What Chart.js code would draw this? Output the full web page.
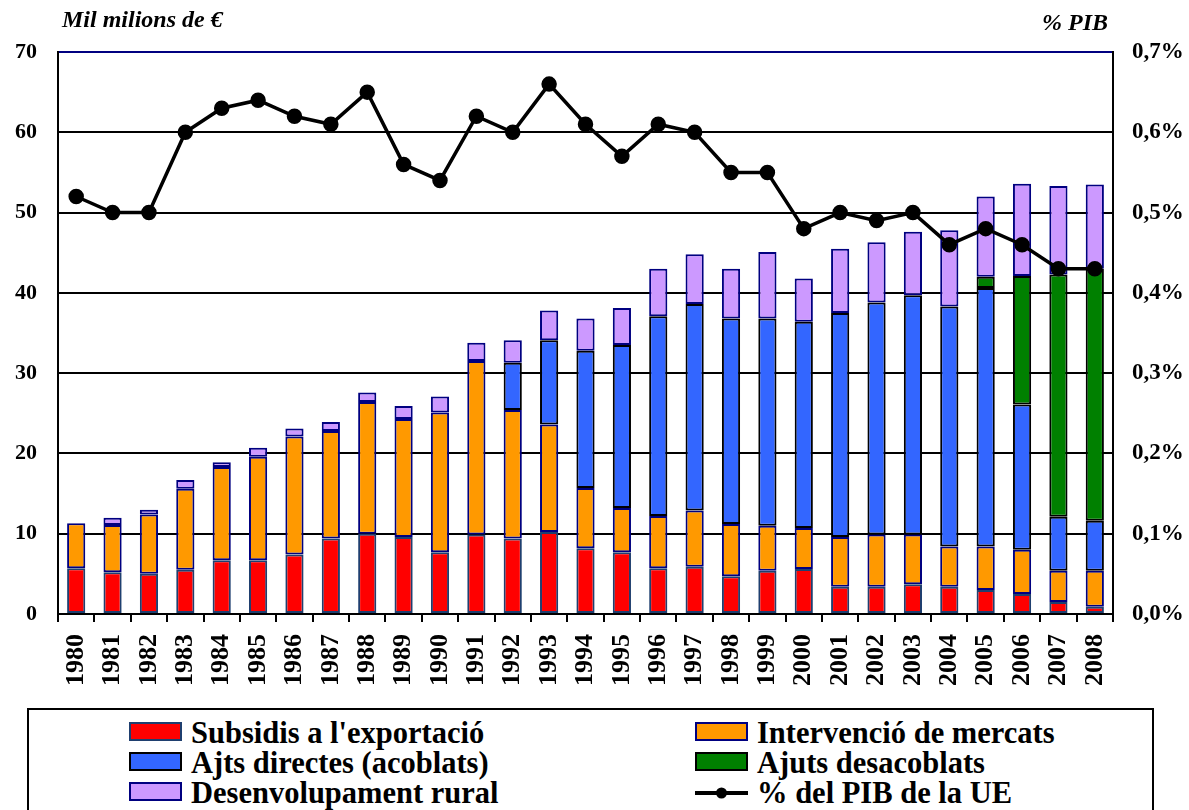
<!DOCTYPE html>
<html>
<head>
<meta charset="utf-8">
<script src="https://cdn.jsdelivr.net/npm/chart.js@4"></script>
<style>
  html, body { margin: 0; padding: 0; background: #fff; }
  body { width: 1189px; height: 810px; position: relative; overflow: hidden; font-family: "Liberation Serif", "Times New Roman", serif; }
  #wrap { position: absolute; left: 0; top: 0; width: 1189px; height: 810px; }
  .ttl { position: absolute; font-weight: bold; font-style: italic; font-size: 24px; color: #000; white-space: nowrap; line-height: 24px; }
  #legend { position: absolute; left: 27px; top: 708px; width: 1127px; height: 120px; border: 2px solid #000; box-sizing: border-box; background: #fff; }
  .li { position: absolute; height: 30px; line-height: 30px; font-size: 30.5px; font-weight: bold; white-space: nowrap; color: #000; }
  .sw { position: absolute; width: 53px; height: 19px; box-sizing: border-box; border: 2px solid #000080; top: 4px; }
  .tx { position: absolute; left: 62px; top: 0; }
</style>
</head>
<body>
<div id="wrap"><canvas id="c" width="1189" height="810"></canvas></div>
<div class="ttl" style="left:62px; top:7px;">Mil milions de €</div>
<div class="ttl" style="left:1042px; top:10px;">% PIB</div>
<div id="legend"></div>
<script>
const years = ['1980','1981','1982','1983','1984','1985','1986','1987','1988','1989','1990','1991','1992','1993','1994','1995','1996','1997','1998','1999','2000','2001','2002','2003','2004','2005','2006','2007','2008'];

const subsidisExportacio = [5.7,5.2,5.0,5.5,6.7,6.7,7.4,9.4,10.0,9.6,7.7,9.9,9.4,10.2,8.2,7.7,5.7,5.9,4.7,5.4,5.6,3.4,3.4,3.7,3.4,3.0,2.5,1.5,0.9];
const intervencioMercats = [5.6,5.9,7.4,10.1,11.6,12.9,14.7,13.4,16.4,14.7,17.4,21.6,16.0,13.4,7.5,5.5,6.5,7.0,6.5,5.6,5.1,6.2,6.5,6.2,5.0,5.4,5.5,3.9,4.5];
const ajutsDirectes = [null,null,null,null,null,null,null,null,null,null,null,null,5.9,10.5,17.1,20.3,24.9,25.7,25.6,25.8,25.7,27.9,28.9,29.8,29.9,32.2,18.1,6.7,6.2];
const ajutsDesacoblats = [null,null,null,null,null,null,null,null,null,null,null,null,null,null,null,null,null,null,null,null,null,null,null,null,null,1.4,16.0,30.2,31.4];
const desenvolupamentRural = [null,0.9,0.6,1.1,0.6,1.1,1.0,1.1,1.2,1.6,2.0,2.3,2.8,3.7,4.0,4.6,5.9,6.2,6.2,8.3,5.4,8.0,7.5,7.9,9.5,10.0,11.5,11.0,10.5];
const pibUE = [0.52,0.50,0.50,0.60,0.63,0.64,0.62,0.61,0.65,0.56,0.54,0.62,0.60,0.66,0.61,0.57,0.61,0.60,0.55,0.55,0.48,0.50,0.49,0.50,0.46,0.48,0.46,0.43,0.43];

const leftTicks = [0,10,20,30,40,50,60,70];
const rightTicks = ['0,0%','0,1%','0,2%','0,3%','0,4%','0,5%','0,6%','0,7%'];

const labels = {
  sub: "Subsidis a l'exportació",
  int: "Intervenció de mercats",
  dir: "Ajts directes (acoblats)",
  des: "Ajuts desacoblats",
  rur: "Desenvolupament rural",
  pib: "% del PIB de la UE"
};

const NAVY = '#000080';
function bar(label, data, color, border) {
  return { type: 'bar', label, data, backgroundColor: color, borderColor: border, borderWidth: 2,
    borderSkipped: false, stack: 's', yAxisID: 'y', order: 2, barPercentage: 0.5, categoryPercentage: 1.0 };
}

const FONT = '"Liberation Serif", "Times New Roman", serif';

new Chart(document.getElementById('c'), {
  data: {
    labels: years,
    datasets: [
      { type: 'line', label: labels.pib, data: pibUE, yAxisID: 'y1', order: 0,
        borderColor: '#000', backgroundColor: '#000', borderWidth: 3.5, pointRadius: 6,
        pointBackgroundColor: '#000', pointBorderColor: '#000', tension: 0 },
      bar(labels.sub, subsidisExportacio, '#FF0000', '#1F3F6F'),
      bar(labels.int, intervencioMercats, '#FF9900', NAVY),
      bar(labels.dir, ajutsDirectes, '#3366FF', '#000000'),
      bar(labels.des, ajutsDesacoblats, '#008000', '#000000'),
      bar(labels.rur, desenvolupamentRural, '#CC99FF', NAVY)
    ]
  },
  options: {
    responsive: false,
    animation: false,
    layout: { padding: { left: 0, right: 0, top: 52, bottom: 0 } },
    plugins: { legend: { display: false }, tooltip: { enabled: false }, title: { display: false } },
    scales: {
      x: {
        stacked: true,
        offset: true,
        afterFit: s => { s.height = 810 - 614; },
        grid: { offset: true, drawOnChartArea: false, drawTicks: true, tickLength: 8, color: '#000', lineWidth: 2 },
        border: { display: true, color: '#000', width: 2 },
        ticks: { minRotation: 90, maxRotation: 90, padding: 12, color: '#000', autoSkip: false,
          font: { family: FONT, size: 26, weight: 'bold' } }
      },
      y: {
        stacked: true,
        position: 'left',
        min: 0, max: 70,
        afterFit: s => { s.width = 58; },
        afterBuildTicks: s => { s.ticks = leftTicks.map(v => ({ value: v })); },
        grid: { drawTicks: false, color: ctx => (ctx.tick && ctx.tick.value === 70) ? NAVY : '#000', lineWidth: 2 },
        border: { display: true, color: '#000', width: 2 },
        ticks: { padding: 21, color: '#000', font: { family: FONT, size: 22, weight: 'bold' },
          callback: v => String(v) }
      },
      y1: {
        position: 'right',
        min: 0, max: 0.7,
        afterFit: s => { s.width = 1189 - 1113; },
        afterBuildTicks: s => { s.ticks = rightTicks.map((t, i) => ({ value: i / 10 })); },
        grid: { drawOnChartArea: false, drawTicks: false },
        border: { display: true, color: '#000', width: 2 },
        ticks: { padding: 19, color: '#000', font: { family: FONT, size: 23, weight: 'bold' },
          callback: (v, i) => rightTicks[i] }
      }
    }
  }
});

// HTML legend
const legendItems = [
  { text: labels.sub, color: '#FF0000', border: '#1F3F6F', x: 100, row: 0 },
  { text: labels.int, color: '#FF9900', border: NAVY, x: 666, row: 0 },
  { text: labels.dir, color: '#3366FF', border: '#000', x: 100, row: 1 },
  { text: labels.des, color: '#008000', border: '#000', x: 666, row: 1 },
  { text: labels.rur, color: '#CC99FF', border: NAVY, x: 100, row: 2 },
  { text: labels.pib, line: true, x: 666, row: 2 }
];
const lg = document.getElementById('legend');
legendItems.forEach(it => {
  const d = document.createElement('div');
  d.className = 'li';
  d.style.left = it.x + 'px';
  d.style.top = (8 + it.row * 30) + 'px';
  if (it.line) {
    d.innerHTML = '<svg width="53" height="30" style="position:absolute;left:0;top:0"><line x1="0" y1="15" x2="53" y2="15" stroke="#000" stroke-width="4"/><circle cx="26.5" cy="15" r="5.5" fill="#000"/></svg>';
  } else {
    const s = document.createElement('div');
    s.className = 'sw';
    s.style.background = it.color;
    s.style.borderColor = it.border;
    d.appendChild(s);
  }
  const t = document.createElement('span');
  t.className = 'tx';
  t.textContent = it.text;
  d.appendChild(t);
  lg.appendChild(d);
});
</script>
</body>
</html>
